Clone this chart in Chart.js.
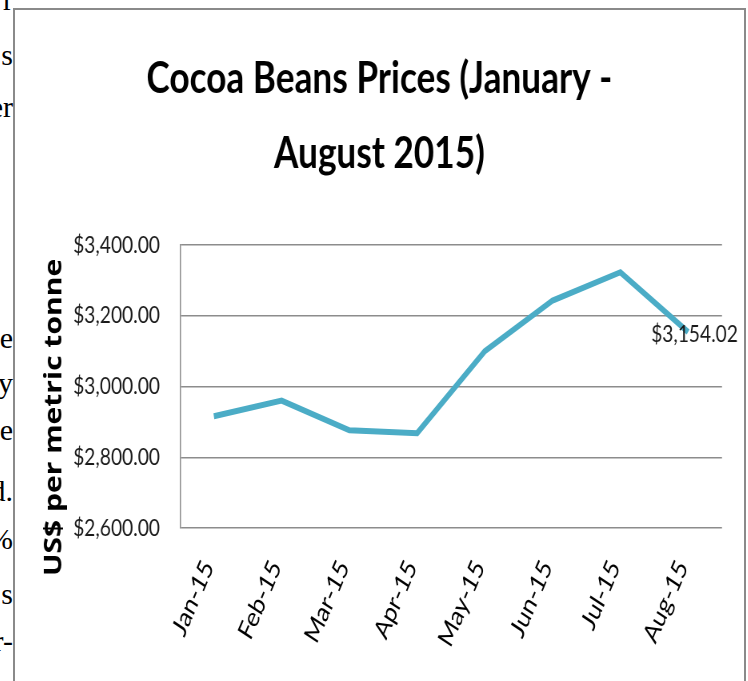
<!DOCTYPE html>
<html>
<head>
<meta charset="utf-8">
<script src="https://cdn.jsdelivr.net/npm/chart.js@4.4.1/dist/chart.umd.min.js"></script>
<style>
  html, body { margin: 0; padding: 0; background: #fff; width: 748px; height: 681px; overflow: hidden; position: relative; }
  .frag { position: absolute; right: 735px; font-family: "Liberation Serif", "Times New Roman", serif; font-size: 30px; line-height: 30px; color: #000; white-space: nowrap; }
  #frame { position: absolute; left: 13px; top: 8px; width: 733px; height: 700px; border-left: 2px solid #8a8a8a; border-top: 2px solid #8a8a8a; border-right: 2px solid #8a8a8a; box-sizing: border-box; }
  #wrap { position: absolute; left: 15px; top: 0; width: 911px; height: 681px; transform: scaleX(0.8); transform-origin: 0 0; }
</style>
</head>
<body>
<script>
// ---- data ----
const categories = ["Jan-15", "Feb-15", "Mar-15", "Apr-15", "May-15", "Jun-15", "Jul-15", "Aug-15"];
const prices = [2916, 2960, 2876, 2868, 3100, 3243, 3323, 3154.02];
const yTicks = [2600, 2800, 3000, 3200, 3400];
const titleLines = ["Cocoa Beans Prices (January -", "August 2015)"];
const yAxisTitle = "US$ per metric tonne";
const fragments = ["r", "s", "er", "e", "y", "e", "d.", "%", "s", "r-"];
const fragmentBaselines = [10, 65, 117, 348, 393, 440, 501, 549, 604, 651];
</script>
<div id="frame"></div>
<div id="frags"></div>
<div id="wrap"><canvas id="c"></canvas></div>
<script>
const fragBox = document.getElementById('frags');
fragments.forEach((t, i) => {
  const s = document.createElement('div');
  s.className = 'frag';
  s.textContent = t;
  s.style.top = (fragmentBaselines[i] - 25) + 'px';
  fragBox.appendChild(s);
});

const money = v => '$' + Number(v).toLocaleString('en-US', {minimumFractionDigits: 2, maximumFractionDigits: 2});

const extras = {
  id: 'extras',
  afterDatasetsDraw(chart) {
    const ctx = chart.ctx;
    const meta = chart.getDatasetMeta(0);
    const pt = meta.data[meta.data.length - 1];
    ctx.save();
    ctx.font = '24px Lato';
    ctx.fillStyle = '#1a1a1a';
    ctx.textAlign = 'center';
    ctx.textBaseline = 'middle';
    ctx.fillText(money(prices[prices.length - 1]), pt.x + 8, pt.y + 2);
    ctx.restore();
  },
  afterDraw(chart) {
    const ctx = chart.ctx;
    ctx.save();
    ctx.translate(49.4, 417.5);
    ctx.rotate(-Math.PI / 2);
    ctx.font = 'bold 30px "Open Sans"';
    ctx.fillStyle = '#000';
    ctx.textAlign = 'center';
    ctx.textBaseline = 'middle';
    ctx.fillText(yAxisTitle, 0, 0);
    ctx.restore();
  }
};

new Chart(document.getElementById('c'), {
  type: 'line',
  data: {
    labels: categories,
    datasets: [{
      data: prices,
      borderColor: '#4BACC6',
      backgroundColor: '#4BACC6',
      borderWidth: 6,
      pointRadius: 0,
      tension: 0,
      borderJoinStyle: 'miter',
      fill: false
    }]
  },
  options: {
    responsive: true,
    maintainAspectRatio: false,
    animation: false,
    layout: { padding: { left: 27.25, right: 27.25, top: 0, bottom: 0 } },
    plugins: {
      legend: { display: false },
      tooltip: { enabled: false },
      title: {
        display: true,
        text: titleLines,
        color: '#000',
        font: { family: 'Lato', weight: 'bold', size: 44, lineHeight: 75 / 44 },
        padding: { top: 41.5, bottom: 53.5 }
      }
    },
    scales: {
      x: {
        offset: true,
        grid: { display: false, drawTicks: false },
        border: { display: false },
        ticks: {
          color: '#000',
          font: { family: 'Lato', size: 27 },
          minRotation: 62,
          maxRotation: 62,
          padding: 27,
          labelOffset: -7,
          autoSkip: false
        },
        afterFit(scale) { scale.height = 153; }
      },
      y: {
        min: 2600,
        max: 3400,
        afterBuildTicks(scale) { scale.ticks = yTicks.map(v => ({ value: v })); },
        grid: { color: '#8c8c8c', lineWidth: 1.5, drawTicks: false },
        border: { display: true, color: '#8c8c8c', width: 1.5 },
        ticks: {
          color: '#1a1a1a',
          font: { family: 'Lato', size: 24 },
          padding: 25,
          callback: v => money(v)
        },
        afterFit(scale) { scale.width = 179; }
      }
    }
  },
  plugins: [extras]
});
</script>
</body>
</html>
